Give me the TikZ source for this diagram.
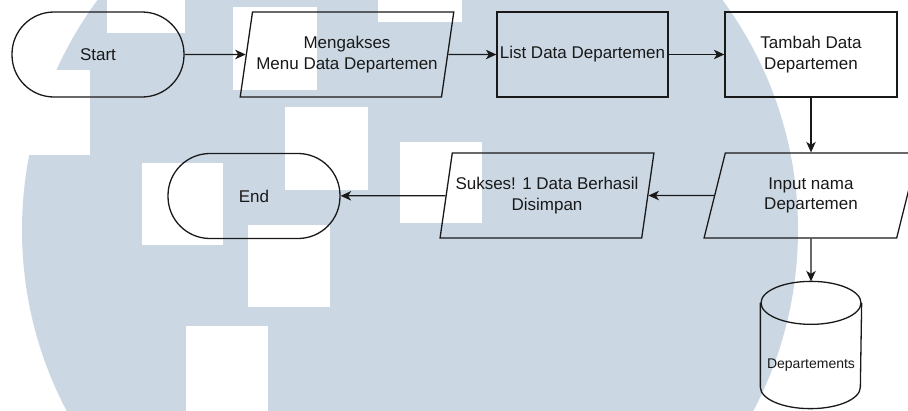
\documentclass[tikz,border=0pt]{standalone}
\usepackage{fontspec}
\setmainfont{Liberation Sans}
\usetikzlibrary{shapes.geometric,arrows.meta,calc}
\definecolor{wmblue}{RGB}{203,216,228}
\definecolor{ink}{RGB}{25,25,25}

\begin{document}
\begin{tikzpicture}[x=1pt,y=-1pt,
  line width=1.3pt,
  every node/.style={font=\fontsize{17}{20.5}\selectfont, text=ink, align=center},
  term/.style={draw=ink, rectangle, rounded corners=42pt, minimum width=172pt, minimum height=85pt, inner sep=0pt},
  proc/.style={draw=ink, rectangle, minimum height=85pt, inner sep=0pt},
  io/.style={draw=ink, trapezium, trapezium left angle=72, trapezium right angle=108,
    trapezium stretches=true, minimum width=214pt, minimum height=85pt, inner sep=0pt},
  flow/.style={draw=ink, -{Stealth[length=10.5pt,width=9.5pt,inset=3pt]}}
]
\useasboundingbox (0,0) rectangle (908,410);

% background emblem: large disc with white squares
\begin{scope}
  \clip (0,0) rectangle (908,410);
  \fill[wmblue] (410,230) circle (388pt);
  \fill[white] (0,70) rectangle (90,155);
  \fill[white] (107,-5) rectangle (185,33);
  \fill[white] (233,7) rectangle (317,90);
  \fill[white] (378,-5) rectangle (462,22);
  \fill[white] (285,107) rectangle (368,190);
  \fill[white] (400,142) rectangle (482,223);
  \fill[white] (142,163) rectangle (223,245);
  \fill[white] (248,225) rectangle (330,307);
  \fill[white] (186,326) rectangle (268,415);
\end{scope}

% flowchart nodes
\node[term] (start) at (98,54.5) {Start};
\node[io] (mk) at (347,54.5) {Mengakses\\Menu Data Departemen};
\node[proc, minimum width=171pt] (list) at (582.5,54.5) {List Data Departemen};
\node[proc, minimum width=172pt] (add) at (811,54.5) {Tambah Data\\Departemen};
\node[io] (in) at (811,195.5) {Input nama\\Departemen};
\node[io] (ok) at (547,195.5) {Sukses! 1 Data Berhasil\\Disimpan};
\node[term] (end) at (254,196) {End};

% database cylinder
\node[minimum width=100pt, minimum height=126pt, inner sep=0pt] (db) at (811,345) {};
\node[font=\fontsize{14}{16}\selectfont] (dblabel) at ($(db.center)+(0,20)$) {Departements};
\draw[ink] ($(db.north west)+(0,21.5)$) -- ($(db.south west)+(0,-21.5)$)
  arc[start angle=180, end angle=360, x radius=50pt, y radius=21.5pt]
  -- ($(db.north east)+(0,21.5)$);
\draw[ink] ($(db.north)+(0,21.5)$) ellipse [x radius=50pt, y radius=21.5pt];

% connectors
\draw[flow] (start) -- (mk);
\draw[flow] (mk) -- (list);
\draw[flow] (list) -- (add);
\draw[flow] (add) -- (in);
\draw[flow] (in) -- (ok);
\draw[flow] (ok) -- (end);
\draw[flow] (in) -- (db);
\end{tikzpicture}
\end{document}
